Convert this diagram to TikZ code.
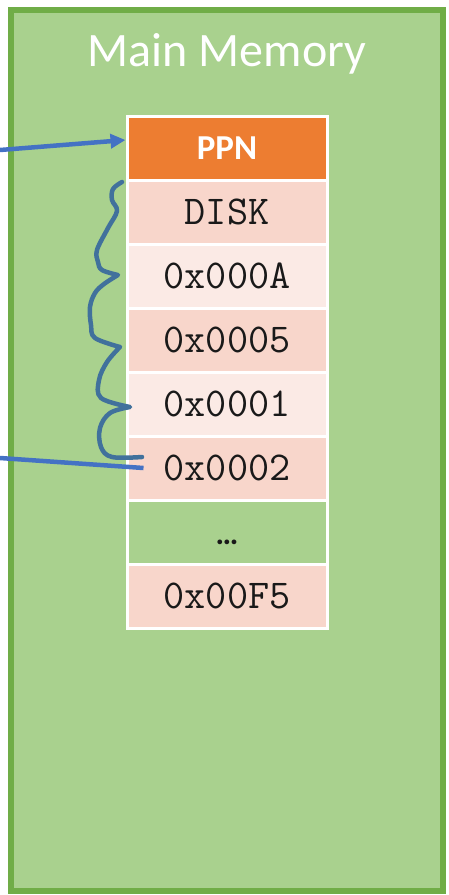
\documentclass[tikz,border=0pt]{standalone}
\usepackage{fontspec}
\setmainfont{Carlito}
\usetikzlibrary{arrows.meta}
\definecolor{memfill}{HTML}{A9D18E}
\definecolor{memborder}{HTML}{70AD47}
\definecolor{ppnorange}{HTML}{ED7D31}
\definecolor{celldark}{HTML}{F8D6CB}
\definecolor{celllight}{HTML}{FBEAE5}
\definecolor{arrowblue}{HTML}{4472C4}
\definecolor{braceblue}{HTML}{41719C}
\tikzset{
  cellbox/.style={draw=white, line width=3pt, minimum width=200pt, minimum height=64pt, inner sep=0pt, font=\ttfamily\fontsize{41}{41}\selectfont, text=black!90},
  pointer/.style={draw=arrowblue, line width=4.5pt},
  bracepath/.style={draw=braceblue, line width=4.5pt, line join=round, line cap=round},
}
\begin{document}
\begin{tikzpicture}[x=1pt,y=-1pt]
\useasboundingbox (0,0) rectangle (449,895);
\node[draw=memborder, fill=memfill, line width=5.5pt, minimum width=432pt, minimum height=881pt, inner sep=0pt] (mem) at (227,450.5) {};
\node[text=white, font=\fontsize{48}{48}\selectfont, anchor=base] (title) at (227,66) {Main Memory};
\node[cellbox, fill=ppnorange, text=white, font=\bfseries\fontsize{35}{35}\selectfont] (ppn) at (227,148) {PPN};
\node[cellbox, fill=celldark] (r1) at (227,212) {DISK};
\node[cellbox, fill=celllight] (r2) at (227,276) {0x000A};
\node[cellbox, fill=celldark] (r3) at (227,340) {0x0005};
\node[cellbox, fill=celllight] (r4) at (227,404) {0x0001};
\node[cellbox, fill=celldark] (r5) at (227,468) {0x0002};
\node[cellbox, fill=memfill, font=\bfseries\fontsize{32}{32}\selectfont] (r6) at (227,532) {\raisebox{-12pt}[0pt][0pt]{…}};
\node[cellbox, fill=celldark] (r7) at (227,596) {0x00F5};
\coordinate (src1) at (0,150);
\coordinate (src2) at (0,458);
\draw[pointer, -{Triangle[length=15pt,width=14pt]}] (src1) -- ([yshift=8pt]ppn.west);
\draw[pointer] (src2) -- ([xshift=18pt]r5.west);
\draw[bracepath]
  plot[smooth, tension=0.6] coordinates {(122,182) (113,189) (112,200) (117,211) (108,228) (97,250) (98,262) (102,270) (118,275)}
  -- plot[smooth, tension=0.6] coordinates {(118,275) (104,284) (95,293) (90,307) (91,325) (95,338) (120,347)}
  -- plot[smooth, tension=0.6] coordinates {(120,347) (107,362) (99,380) (101,398) (130,407)}
  -- plot[smooth, tension=0.6] coordinates {(130,407) (110,413) (100,428) (101,447) (112,457) (142,457)};
\end{tikzpicture}
\end{document}
